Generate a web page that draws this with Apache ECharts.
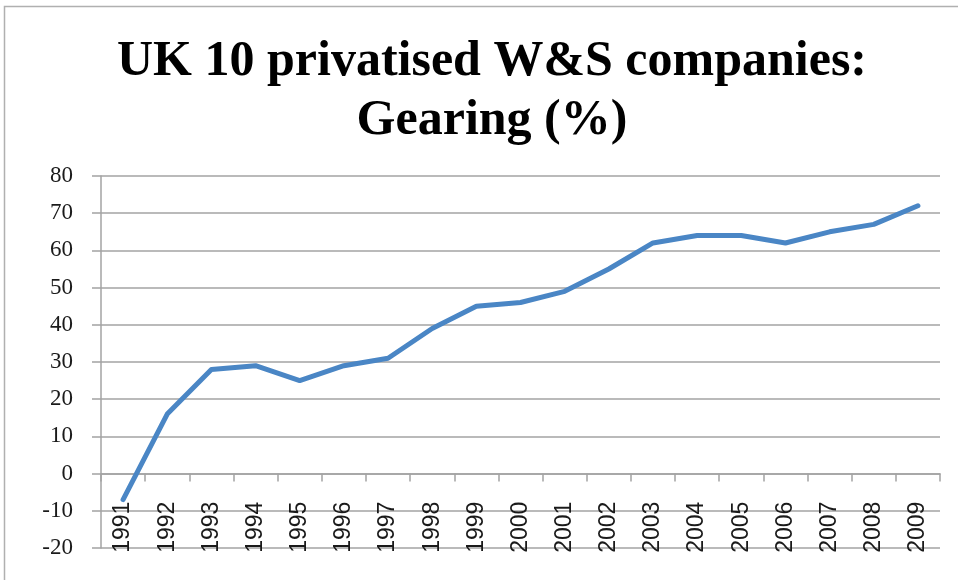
<!DOCTYPE html>
<html>
<head>
<meta charset="utf-8">
<script src="https://cdn.jsdelivr.net/npm/echarts@6/dist/echarts.min.js"></script>
<style>
html,body{margin:0;padding:0;background:#fff;}
#chart{width:958px;height:580px;}
</style>
</head>
<body>
<div id="chart"></div>
<script>
const titleLines = ['UK 10 privatised W&S companies:', 'Gearing (%)'];
const years = ['1991','1992','1993','1994','1995','1996','1997','1998','1999','2000','2001','2002','2003','2004','2005','2006','2007','2008','2009'];
const gearing = [-7, 16, 28, 29, 25, 29, 31, 39, 45, 46, 49, 55, 62, 64, 64, 62, 65, 67, 72];
const yMin = -20, yMax = 80, yStep = 10;

const gridTop = 176, gridBottom = 32, chartH = 580;
const pxPerUnit = (chartH - gridTop - gridBottom) / (yMax - yMin);
const zeroOffset = -(0 - yMin) * pxPerUnit;

const gridColor = '#a3a3a3';
const chart = echarts.init(document.getElementById('chart'), null, {renderer: 'canvas'});
chart.setOption({
  animation: false,
  backgroundColor: '#fff',
  graphic: [{
    type: 'rect', silent: true,
    shape: {x: 4.5, y: 6.5, width: 1000, height: 1000},
    style: {fill: 'none', stroke: '#b0b0b0', lineWidth: 1.5}
  }],
  title: {
    text: titleLines.join('\n'),
    left: 487,
    top: 28,
    textAlign: 'center',
    textStyle: {
      fontFamily: '"Liberation Serif", serif',
      fontWeight: 'bold',
      fontSize: 50,
      lineHeight: 59,
      color: '#000'
    }
  },
  grid: {left: 101, right: 18, top: gridTop, bottom: gridBottom, containLabel: false, outerBoundsMode: 'none'},
  xAxis: {
    type: 'category',
    data: years,
    boundaryGap: true,
    position: 'bottom',
    offset: zeroOffset,
    axisLine: {onZero: false, lineStyle: {color: gridColor, width: 1.5}},
    axisTick: {show: true, length: 8, alignWithLabel: false, lineStyle: {color: gridColor, width: 1.5}},
    axisLabel: {
      rotate: 90, margin: 28, interval: 0,
      fontFamily: '"Liberation Sans", Arial, sans-serif',
      fontSize: 23, color: '#1a1a1a'
    },
    splitLine: {show: false}
  },
  yAxis: {
    type: 'value',
    min: yMin, max: yMax, interval: yStep,
    axisLine: {show: true, lineStyle: {color: gridColor, width: 1.5}},
    axisTick: {show: true, length: 9, lineStyle: {color: gridColor, width: 1.5}},
    axisLabel: {
      margin: 28,
      fontFamily: '"Liberation Serif", serif',
      fontSize: 23, color: '#1a1a1a'
    },
    splitLine: {show: true, lineStyle: {color: gridColor, width: 1.5}}
  },
  series: [{
    type: 'line',
    data: gearing,
    showSymbol: false,
    symbol: 'none',
    smooth: false,
    lineStyle: {color: '#4a86c5', width: 5, cap: 'round', join: 'round'},
    itemStyle: {color: '#4a86c5'}
  }]
});
</script>
</body>
</html>
